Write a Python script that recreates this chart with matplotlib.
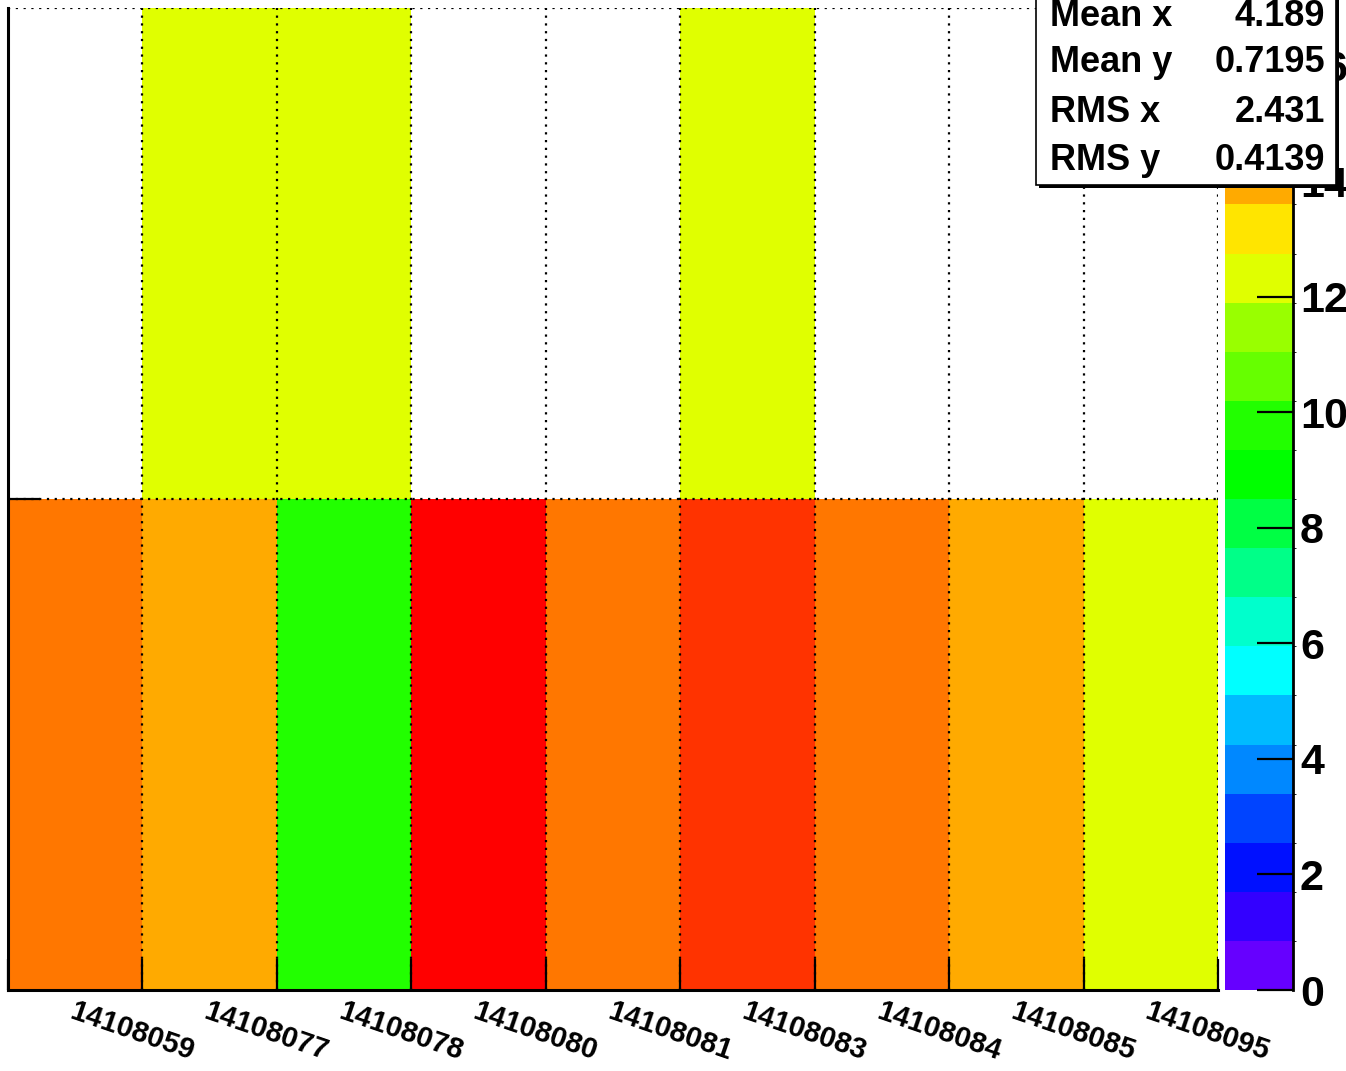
import numpy as np
import matplotlib.pyplot as plt
from matplotlib.colors import ListedColormap, BoundaryNorm
from matplotlib.patches import Rectangle

# run numbers on the x axis, two y bins
runs = ["14108059", "14108077", "14108078", "14108080", "14108081",
        "14108083", "14108084", "14108085", "14108095"]
row_low = [15, 14, 10, 17, 15, 16, 15, 14, 12]
row_high = [np.nan, 12, 12, np.nan, np.nan, 12, np.nan, np.nan, np.nan]

z_max = 17
n_levels = 20
palette = ["#6600ff", "#3300ff", "#0010ff", "#0044ff", "#0088ff",
           "#00bbff", "#00ffff", "#00ffcc", "#00ff88", "#00ff44",
           "#00ff00", "#22ff00", "#66ff00", "#99ff00", "#e0ff00",
           "#ffe500", "#ffaa00", "#ff7700", "#ff3300", "#ff0000"]

stats_names = ["Mean x", "Mean y", "RMS x", "RMS y"]
stats_values = ["4.189", "0.7195", "2.431", "0.4139"]

W, H = 1346, 1071


def fx(px):
    return px / W


def fy(py):
    return 1 - py / H


plt.rcParams["font.family"] = ["Liberation Sans", "DejaVu Sans"]
plt.rcParams["font.weight"] = "bold"

fig = plt.figure(figsize=(W / 100, H / 100), dpi=100)
ax = fig.add_axes([fx(8), fy(990), fx(1218) - fx(8), fy(8) - fy(990)])

z = np.ma.masked_invalid(np.array([row_low, row_high], dtype=float))
cmap = ListedColormap(palette)
norm = BoundaryNorm(np.linspace(0, z_max, n_levels + 1), cmap.N)
mesh = ax.pcolormesh(np.arange(len(runs) + 1), [0, 1, 2], z, cmap=cmap, norm=norm)

ax.set_xlim(0, len(runs))
ax.set_ylim(0, 2)

dotted = dict(color="black", linestyle=(0, (1, 2.5)), linewidth=1.6)
for xv in range(1, len(runs) + 1):
    ax.plot([xv, xv], [0, 2], zorder=3, **dotted)
ax.plot([0, len(runs)], [1, 1], zorder=3, **dotted)
ax.plot([0, len(runs)], [2, 2], zorder=3, **dotted)

for side in ("top", "right"):
    ax.spines[side].set_visible(False)
for side in ("left", "bottom"):
    ax.spines[side].set_linewidth(2.2)
    ax.spines[side].set_zorder(4)

ax.set_xticks(range(len(runs) + 1))
ax.set_xticklabels([])
ax.tick_params(axis="x", which="major", direction="in", length=22, width=1.6)
ax.set_xticks(np.arange(len(runs)) + 0.5, minor=True)
ax.set_xticklabels(runs, minor=True, rotation=-19, rotation_mode="anchor",
                   ha="left", va="top", fontsize=21, fontweight="bold")
ax.tick_params(axis="x", which="minor", length=0, pad=5)

ax.set_yticks([1])
ax.set_yticklabels([])
ax.tick_params(axis="y", direction="in", length=23, width=1.6)

cax = fig.add_axes([fx(1225), fy(990), fx(1293) - fx(1225), fy(8) - fy(990)])
cb = fig.colorbar(mesh, cax=cax, ticks=range(0, z_max, 2))
cb.outline.set_visible(False)
cax.plot([1, 1], [0, z_max], color="black", linewidth=2, clip_on=False, zorder=5)
cax.tick_params(direction="in", length=26, width=1.6, labelsize=31, pad=5)
for lab in cax.get_yticklabels():
    lab.set_fontweight("bold")

# stats box
fig.patches.append(Rectangle((fx(1039), fy(188)), fx(1339) - fx(1039), fy(-10) - fy(188),
                             transform=fig.transFigure, facecolor="black",
                             edgecolor="none", zorder=5))
fig.patches.append(Rectangle((fx(1036), fy(185)), fx(1336) - fx(1036), fy(-10) - fy(185),
                             transform=fig.transFigure, facecolor="white",
                             edgecolor="black", linewidth=1.2, zorder=6))
row_y = [16, 63, 112, 160]
for name, val, ry in zip(stats_names, stats_values, row_y):
    fig.text(fx(1050), fy(ry), name, fontsize=26, fontweight="bold",
             ha="left", va="center", zorder=7)
    fig.text(fx(1325), fy(ry), val, fontsize=26, fontweight="bold",
             ha="right", va="center", zorder=7)

fig.savefig("out.png", dpi=100)
